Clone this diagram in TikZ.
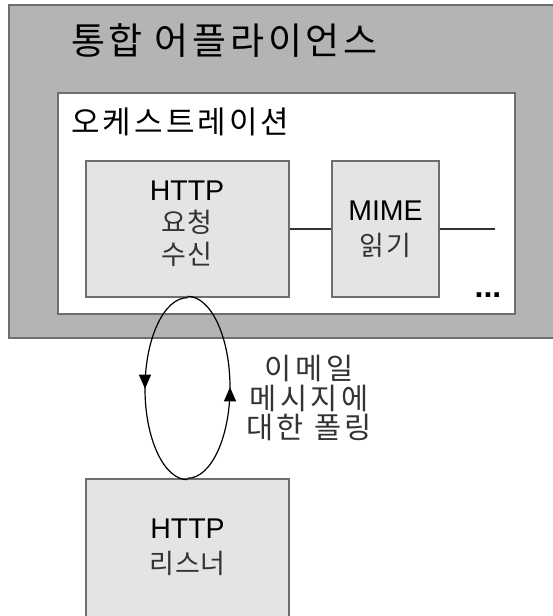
\documentclass[tikz,border=0pt]{standalone}
\usepackage{fontspec}
\setmainfont{Liberation Sans}
\newfontfamily\kr{Noto Sans CJK KR}
\usetikzlibrary{arrows.meta,decorations.markings}
\definecolor{outergray}{HTML}{B4B4B4}
\definecolor{boxgray}{HTML}{E4E4E4}
\definecolor{edgegray}{HTML}{6E6E6E}
\definecolor{krtext}{HTML}{333333}
\tikzset{
  outerbox/.style={draw=edgegray,line width=1.4pt,fill=outergray},
  innerbox/.style={draw=edgegray,line width=1.4pt,fill=white},
  stagebox/.style={draw=edgegray,line width=1.4pt,fill=boxgray,inner sep=0pt},
  boxtext/.style={align=center,inner sep=0pt,font=\fontsize{27}{32}\selectfont},
  conn/.style={draw=black!80,line width=1.2pt},
  halfloop/.style={draw=black,line width=1.2pt,postaction={decorate},
    decoration={markings,mark=at position 0.5 with {\arrow{Triangle[length=14pt,width=12pt]}}}}
}
\newcommand{\lat}[1]{{\fontsize{28.5}{32}\selectfont #1}}
\begin{document}
\begin{tikzpicture}[x=1pt,y=1pt]
\useasboundingbox (0,0) rectangle (552,616);
% outer appliance
\node[outerbox,minimum width=546pt,minimum height=333pt,inner sep=0pt] (appl) at (282,444.5) {};
\node[anchor=west,inner sep=0pt,font=\kr\addfontfeatures{LetterSpace=10}\fontsize{37}{42}\selectfont] (appltitle) at (71,575) {통합 어플라이언스};
% orchestration
\node[innerbox,minimum width=457pt,minimum height=221pt,inner sep=0pt] (orch) at (286.5,412.5) {};
\node[anchor=west,inner sep=0pt,font=\kr\addfontfeatures{LetterSpace=10}\fontsize{31}{36}\selectfont] (orchtitle) at (71,494) {오케스트레이션};
% stages
\node[stagebox,minimum width=203pt,minimum height=136pt] (http) at (187.5,387) {};
\node[boxtext] (httptxt) at (187,392) {\lat{HTTP}\\{\kr\addfontfeatures{LetterSpace=6}\color{krtext}요청}\\{\kr\addfontfeatures{LetterSpace=6}\color{krtext}수신}};
\node[stagebox,minimum width=107pt,minimum height=136pt] (mime) at (385.5,387) {};
\node[boxtext,font=\fontsize{27}{35}\selectfont] (mimetxt) at (385.5,386.5) {\lat{MIME}\\{\kr\addfontfeatures{LetterSpace=6}\color{krtext}읽기}};
\coordinate (nextstage) at (495,387);
\node[anchor=base,inner sep=0pt,font=\bfseries\fontsize{32}{34}\selectfont] (dots) at (488,318.5) {...};
\draw[conn] (http.east) -- (mime.west);
\draw[conn] (mime.east) -- (nextstage);
% listener
\node[stagebox,minimum width=203pt,minimum height=141pt] (listener) at (187.5,66.5) {};
\node[boxtext,font=\fontsize{27}{35}\selectfont] (listenertxt) at (187.5,68.5) {\lat{HTTP}\\{\kr\addfontfeatures{LetterSpace=4}\color{krtext}리스너}};
% polling loop
\draw[halfloop] (http.south) arc[start angle=90,end angle=270,x radius=42.5,y radius=91];
\draw[halfloop] (listener.north) arc[start angle=-90,end angle=90,x radius=42.5,y radius=91];
\node[align=center,inner sep=0pt,text=krtext,font=\kr\addfontfeatures{LetterSpace=12}\fontsize{29.5}{29.5}\selectfont] (polllabel) at (309,218) {이메일\\메시지에\\대한 폴링};
\end{tikzpicture}
\end{document}
